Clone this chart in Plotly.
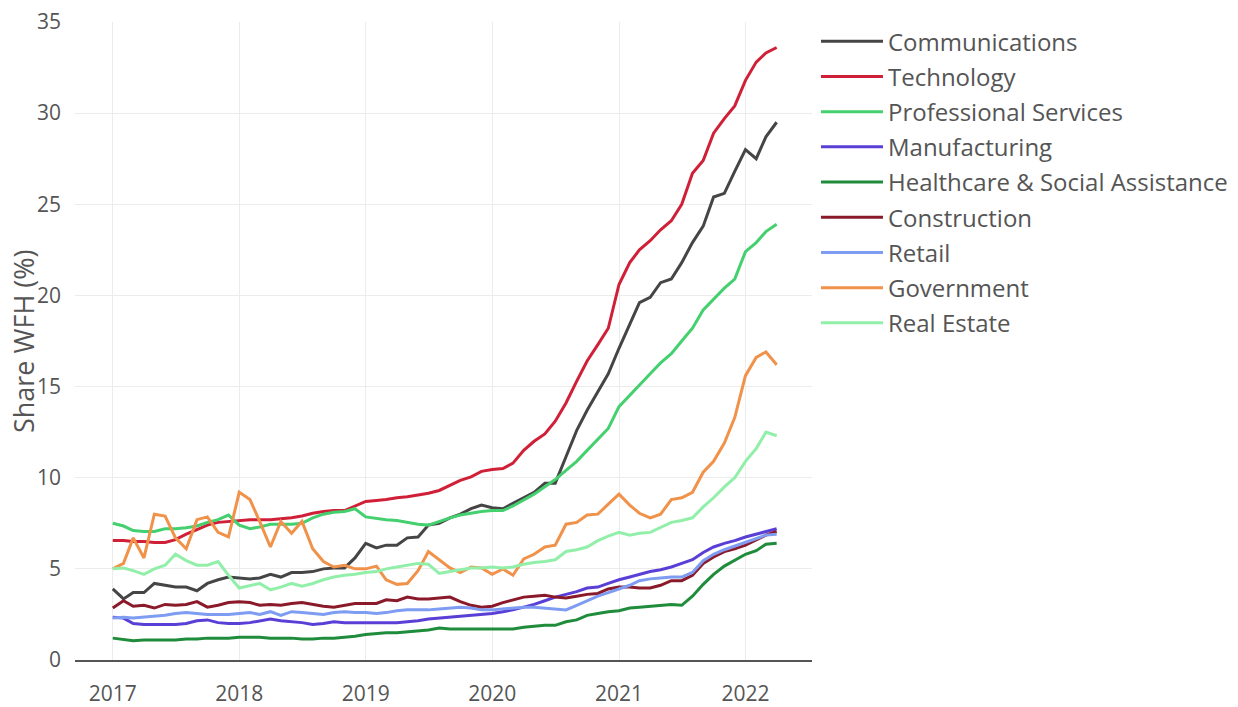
import pandas as pd
import plotly.graph_objects as go

months = pd.date_range("2017-01-01", periods=64, freq="MS")

communications = [3.9, 3.35, 3.7, 3.7, 4.2, 4.1, 4.0, 4.0, 3.8, 4.2, 4.4, 4.55,
                  4.5, 4.45, 4.5, 4.7, 4.55, 4.8, 4.8, 4.85, 5.0, 5.05, 5.05, 5.6,
                  6.4, 6.15, 6.3, 6.3, 6.7, 6.75, 7.4, 7.5, 7.8, 8.0, 8.3, 8.5,
                  8.35, 8.3, 8.6, 8.9, 9.2, 9.7, 9.7, 11.15, 12.6, 13.7, 14.7, 15.7,
                  17.1, 18.4, 19.6, 19.9, 20.7, 20.9, 21.8, 22.9, 23.8, 25.4, 25.6, 26.8,
                  28.0, 27.5, 28.7, 29.5]
technology = [6.55, 6.55, 6.5, 6.5, 6.45, 6.45, 6.6, 6.9, 7.15, 7.4, 7.55, 7.6,
              7.65, 7.7, 7.7, 7.7, 7.75, 7.8, 7.9, 8.05, 8.15, 8.2, 8.2, 8.45,
              8.7, 8.75, 8.8, 8.9, 8.95, 9.05, 9.15, 9.3, 9.6, 9.85, 10.05, 10.35,
              10.45, 10.5, 10.8, 11.5, 12.0, 12.4, 13.1, 14.1, 15.3, 16.4, 17.3, 18.2,
              20.6, 21.8, 22.5, 23.0, 23.6, 24.1, 25.0, 26.7, 27.4, 28.9, 29.7, 30.4,
              31.8, 32.8, 33.3, 33.6]
professional = [7.5, 7.35, 7.1, 7.05, 7.05, 7.2, 7.2, 7.25, 7.35, 7.55, 7.7, 7.95,
                7.4, 7.2, 7.3, 7.45, 7.45, 7.45, 7.5, 7.8, 8.0, 8.1, 8.15, 8.3,
                7.85, 7.75, 7.7, 7.65, 7.55, 7.45, 7.4, 7.6, 7.8, 7.95, 8.05, 8.15,
                8.2, 8.2, 8.45, 8.8, 9.1, 9.5, 9.9, 10.4, 10.9, 11.5, 12.1, 12.7,
                13.9, 14.5, 15.1, 15.7, 16.3, 16.8, 17.5, 18.2, 19.2, 19.8, 20.4, 20.9,
                22.4, 22.9, 23.5, 23.9]
manufacturing = [2.35, 2.3, 2.0, 1.95, 1.95, 1.95, 1.95, 2.0, 2.15, 2.2, 2.05, 2.0,
                 2.0, 2.05, 2.15, 2.25, 2.15, 2.1, 2.05, 1.95, 2.0, 2.1, 2.05, 2.05,
                 2.05, 2.05, 2.05, 2.05, 2.1, 2.15, 2.25, 2.3, 2.35, 2.4, 2.45, 2.5,
                 2.55, 2.65, 2.75, 2.9, 3.05, 3.25, 3.45, 3.6, 3.75, 3.95, 4.0, 4.2,
                 4.4, 4.55, 4.7, 4.85, 4.95, 5.1, 5.3, 5.5, 5.9, 6.2, 6.4, 6.55,
                 6.75, 6.9, 7.05, 7.2]
healthcare = [1.2, 1.1, 1.05, 1.1, 1.1, 1.1, 1.1, 1.15, 1.15, 1.2, 1.2, 1.2,
              1.25, 1.25, 1.25, 1.2, 1.2, 1.2, 1.15, 1.15, 1.2, 1.2, 1.25, 1.3,
              1.4, 1.45, 1.5, 1.5, 1.55, 1.6, 1.65, 1.75, 1.7, 1.7, 1.7, 1.7,
              1.7, 1.7, 1.7, 1.8, 1.85, 1.9, 1.9, 2.1, 2.2, 2.45, 2.55, 2.65,
              2.7, 2.85, 2.9, 2.95, 3.0, 3.05, 3.0, 3.5, 4.15, 4.7, 5.15, 5.45,
              5.8, 6.0, 6.35, 6.4]
construction = [2.85, 3.25, 2.95, 3.0, 2.85, 3.05, 3.0, 3.05, 3.2, 2.9, 3.0, 3.15,
                3.2, 3.15, 3.0, 3.05, 3.0, 3.1, 3.15, 3.05, 2.95, 2.9, 3.0, 3.1,
                3.1, 3.1, 3.3, 3.25, 3.45, 3.35, 3.35, 3.4, 3.45, 3.2, 3.0, 2.9,
                2.95, 3.15, 3.3, 3.45, 3.5, 3.55, 3.45, 3.4, 3.5, 3.6, 3.65, 3.9,
                4.0, 4.0, 3.95, 3.95, 4.1, 4.35, 4.35, 4.65, 5.3, 5.65, 5.95, 6.1,
                6.3, 6.6, 6.85, 7.05]
retail = [2.3, 2.35, 2.3, 2.35, 2.4, 2.45, 2.55, 2.6, 2.55, 2.5, 2.5, 2.5,
          2.55, 2.6, 2.5, 2.65, 2.45, 2.65, 2.6, 2.55, 2.5, 2.6, 2.65, 2.6,
          2.6, 2.55, 2.6, 2.7, 2.75, 2.75, 2.75, 2.8, 2.85, 2.9, 2.85, 2.75,
          2.75, 2.8, 2.85, 2.9, 2.9, 2.85, 2.8, 2.75, 3.0, 3.25, 3.5, 3.7,
          3.9, 4.1, 4.35, 4.45, 4.5, 4.55, 4.55, 4.8, 5.45, 5.8, 6.05, 6.25,
          6.45, 6.65, 6.85, 6.9]
government = [5.0, 5.3, 6.7, 5.6, 8.0, 7.9, 6.7, 6.1, 7.7, 7.85, 7.0, 6.75,
              9.2, 8.8, 7.6, 6.2, 7.6, 6.95, 7.6, 6.1, 5.4, 5.1, 5.2, 5.0,
              5.0, 5.15, 4.4, 4.15, 4.2, 4.9, 5.95, 5.5, 5.05, 4.8, 5.1, 5.05,
              4.7, 5.0, 4.65, 5.55, 5.8, 6.2, 6.3, 7.45, 7.55, 7.95, 8.0, 8.55,
              9.1, 8.5, 8.05, 7.8, 8.0, 8.8, 8.9, 9.2, 10.3, 10.9, 11.9, 13.3,
              15.6, 16.6, 16.9, 16.2]
real_estate = [5.0, 5.05, 4.9, 4.7, 5.0, 5.2, 5.8, 5.45, 5.2, 5.2, 5.4, 4.65,
               3.95, 4.1, 4.2, 3.85, 4.0, 4.2, 4.05, 4.2, 4.4, 4.55, 4.65, 4.7,
               4.8, 4.85, 5.0, 5.1, 5.2, 5.3, 5.25, 4.75, 4.85, 4.95, 5.05, 5.05,
               5.1, 5.05, 5.1, 5.25, 5.35, 5.4, 5.5, 5.95, 6.05, 6.2, 6.55, 6.8,
               7.0, 6.85, 6.95, 7.0, 7.25, 7.55, 7.65, 7.8, 8.4, 8.9, 9.5, 10.0,
               10.9, 11.6, 12.5, 12.3]

series_names = ["Communications", "Technology", "Professional Services", "Manufacturing",
                "Healthcare & Social Assistance", "Construction", "Retail",
                "Government", "Real Estate"]
series_values = [communications, technology, professional, manufacturing, healthcare,
                 construction, retail, government, real_estate]
series_colors = ["#454545", "#d02038", "#45d06f", "#5a3fd6", "#1f8c3b",
                 "#8a1a2a", "#7d9cf2", "#f0924a", "#92efaa"]
y_title = "Share WFH (%)"

fig = go.Figure()
for name, vals, col in zip(series_names, series_values, series_colors):
    fig.add_trace(go.Scatter(x=months, y=vals, mode="lines", name=name,
                             legendgroup=name,
                             line=dict(color=col, width=3)))

font_family = "Open Sans, DejaVu Sans, sans-serif"
# the page body adds an 8px offset; margins are fixed (no auto-expansion)
fig.update_layout(
    width=1230, height=699,
    margin=dict(l=67, r=426, t=14, b=47, autoexpand=False),
    paper_bgcolor="white", plot_bgcolor="white",
    font=dict(family=font_family, size=21, color="#555555"),
    legend=dict(x=1.0054, y=1.0045, xanchor="left", yanchor="top",
                font=dict(size=24, color="#555555"), itemwidth=62,
                traceorder="grouped", tracegroupgap=1),
    showlegend=True,
)
fig.update_xaxes(
    range=["2016-09-14", "2022-07-12"],
    dtick="M12", tick0="2017-01-01", tickformat="%Y",
    showgrid=True, gridcolor="#ececec", gridwidth=1,
    showline=True, linecolor="#555555", linewidth=2,
    ticks="", ticklabelstandoff=14, automargin=False,
    ticklabeloverflow="allow",
    tickfont=dict(size=21, color="#555555"),
    zeroline=False,
)
fig.update_yaxes(
    range=[0, 35], dtick=5,
    showgrid=True, gridcolor="#ececec", gridwidth=1,
    showline=False, zeroline=False, ticks="",
    ticklabelstandoff=13, automargin=False,
    ticklabeloverflow="allow",
    tickfont=dict(size=21, color="#555555"),
)
fig.add_annotation(
    text=y_title, textangle=-90, showarrow=False,
    xref="paper", yref="paper", x=-0.0705, y=0.5,
    xanchor="center", yanchor="middle",
    font=dict(size=27, color="#555555"),
)

fig.write_html("out.html")
